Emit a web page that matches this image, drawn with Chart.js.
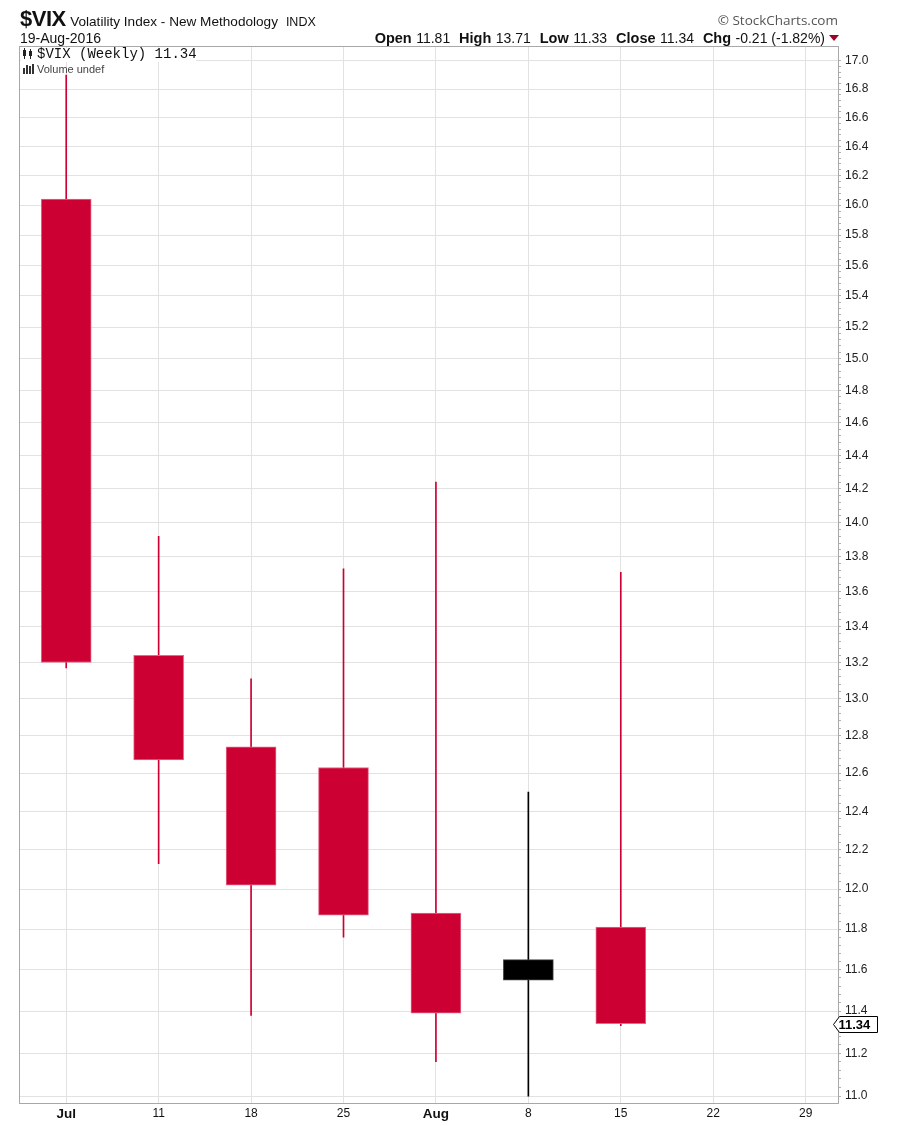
<!DOCTYPE html>
<html><head><meta charset="utf-8">
<script src="https://cdn.jsdelivr.net/npm/chart.js@4.4.1/dist/chart.umd.min.js"></script>
<style>
html,body{margin:0;padding:0;background:#fff;}
#wrap{position:relative;width:901px;height:1126px;overflow:hidden;font-family:"Liberation Sans",Arial,sans-serif;color:#111;}
canvas{position:absolute;left:0;top:0;}
.abs{position:absolute;white-space:nowrap;}
.b{font-weight:bold;font-size:14.5px;}
.v{font-size:14px;}
</style></head><body>
<div id="wrap">
<canvas id="c" width="901" height="1126"></canvas>
<div class="abs" style="left:20px;top:7px;line-height:24px;"><span style="font-weight:bold;font-size:22px;letter-spacing:-0.5px;">$VIX</span> <span style="font-size:13.6px;">Volatility Index - New Methodology</span> <span style="font-size:12.5px;">&nbsp;INDX</span></div>
<div class="abs" style="left:20px;top:31px;line-height:15px;font-size:14px;">19-Aug-2016</div>
<div class="abs" style="right:63px;top:11px;line-height:18px;font-family:'Open Sans',sans-serif;font-size:13.5px;color:#555;">&copy; StockCharts.com</div>
<div class="abs" style="right:76px;top:30px;line-height:15px;"><span class="b">Open</span> <span class="v">11.81</span>&nbsp; <span class="b">High</span> <span class="v">13.71</span>&nbsp; <span class="b">Low</span> <span class="v">11.33</span>&nbsp; <span class="b">Close</span> <span class="v">11.34</span>&nbsp; <span class="b">Chg</span> <span class="v">-0.21 (-1.82%)</span></div>
<div class="abs" style="left:829px;top:35px;width:0;height:0;border-left:5px solid transparent;border-right:5px solid transparent;border-top:6px solid #a0002a;"></div>
<div class="abs" style="left:21px;top:48px;width:175px;height:14px;background:#fff;"></div>
<div class="abs" style="left:23px;top:50px;width:3px;height:6px;background:#222;"></div>
<div class="abs" style="left:24px;top:48px;width:1px;height:11px;background:#222;"></div>
<div class="abs" style="left:29px;top:51px;width:3px;height:5px;background:#222;"></div>
<div class="abs" style="left:30px;top:49px;width:1px;height:10px;background:#222;"></div>
<div class="abs" style="left:37px;top:47px;line-height:14px;font-family:'Liberation Mono',monospace;font-size:14px;color:#111;">$VIX (Weekly) 11.34</div>
<div class="abs" style="left:23px;top:68px;width:2px;height:6px;background:#333;"></div>
<div class="abs" style="left:26px;top:65px;width:2px;height:9px;background:#333;"></div>
<div class="abs" style="left:29px;top:66px;width:2px;height:8px;background:#333;"></div>
<div class="abs" style="left:32px;top:64px;width:2px;height:10px;background:#333;"></div>
<div class="abs" style="left:37px;top:63px;line-height:13px;font-size:11px;color:#444;">Volume undef</div>
</div>
<script>
// ---- data ----
const xLabels = ['Jul', '11', '18', '25', 'Aug', '8', '15', '22', '29'];
const opens  = [16.04, 13.24, 12.74, 12.63, 11.88, 11.65, 11.81];
const highs  = [16.90, 13.92, 13.11, 13.73, 14.24, 12.50, 13.71];
const lows   = [13.17, 12.13, 11.38, 11.76, 11.16, 11.00, 11.33];
const closes = [13.20, 12.67, 12.02, 11.87, 11.39, 11.55, 11.34];
const yMajorTicks = [11.0, 11.2, 11.4, 11.6, 11.8, 12.0, 12.2, 12.4, 12.6, 12.8, 13.0, 13.2, 13.4, 13.6, 13.8, 14.0, 14.2, 14.4, 14.6, 14.8, 15.0, 15.2, 15.4, 15.6, 15.8, 16.0, 16.2, 16.4, 16.6, 16.8, 17.0];
const minorPerMajor = 5;

const RED = '#cc0033', BLACK = '#000000';
const candleColors = closes.map((c, i) => (i > 0 && c > closes[i - 1]) ? BLACK : RED);
const bodyBorders = candleColors.map(c => c === RED ? '#e26a88' : '#444444');

// build y tick list (major + minor)
const yTicks = [];
for (let i = 0; i < yMajorTicks.length; i++) {
  yTicks.push({ value: yMajorTicks[i], major: true });
  if (i < yMajorTicks.length - 1) {
    const a = yMajorTicks[i], b = yMajorTicks[i + 1];
    for (let k = 1; k < minorPerMajor; k++) yTicks.push({ value: a + (b - a) * k / minorPerMajor, major: false });
  }
}

const framePlugin = {
  id: 'frame',
  afterDatasetsDraw(chart) {
    const { ctx, chartArea: a } = chart;
    ctx.save();
    ctx.strokeStyle = '#a8a8a8';
    ctx.lineWidth = 1;
    ctx.strokeRect(Math.round(a.left) - 0.5, Math.round(a.top) - 0.5, Math.round(a.right - a.left) + 1, Math.round(a.bottom - a.top) + 1);
    ctx.restore();
  },
  afterDraw(chart) {
    const { ctx, chartArea: a } = chart;
    const last = closes[closes.length - 1];
    const y = Math.round(chart.scales.y.getPixelForValue(last)) + 0.5;
    const x0 = Math.round(a.right) - 4.5;
    ctx.save();
    ctx.beginPath();
    ctx.moveTo(x0, y);
    ctx.lineTo(x0 + 6, y - 8);
    ctx.lineTo(x0 + 44, y - 8);
    ctx.lineTo(x0 + 44, y + 8);
    ctx.lineTo(x0 + 6, y + 8);
    ctx.closePath();
    ctx.fillStyle = '#fff';
    ctx.fill();
    ctx.strokeStyle = '#000';
    ctx.lineWidth = 1;
    ctx.stroke();
    ctx.fillStyle = '#000';
    ctx.font = 'bold 13px "Liberation Sans", Arial, sans-serif';
    ctx.textBaseline = 'middle';
    ctx.textAlign = 'left';
    ctx.fillText(last.toFixed(2), x0 + 5, y + 1);
    ctx.restore();
  }
};

new Chart(document.getElementById('c'), {
  type: 'bar',
  data: {
    datasets: [
      {
        label: 'body',
        data: opens.map((o, i) => ({ x: i, y: [o, closes[i]] })),
        backgroundColor: candleColors,
        borderColor: bodyBorders,
        borderWidth: 1,
        borderSkipped: false,
        barThickness: 50,
        grouped: false,
        order: 0
      },
      {
        label: 'wick',
        data: opens.map((o, i) => ({ x: i, y: [lows[i], highs[i]] })),
        backgroundColor: candleColors,
        borderWidth: 0,
        barThickness: 1,
        grouped: false,
        order: 1
      }
    ]
  },
  options: {
    responsive: false,
    animation: false,
    devicePixelRatio: 1,
    layout: { padding: { left: 20, top: 47, right: 0, bottom: 0 } },
    plugins: { legend: { display: false }, tooltip: { enabled: false } },
    scales: {
      x: {
        type: 'linear',
        position: 'bottom',
        offset: false,
        min: -0.5,
        max: 8.35,
        afterBuildTicks(scale) { scale.ticks = xLabels.map((_, i) => ({ value: i })); },
        afterFit(scale) { scale.height = 23; },
        border: { display: false },
        grid: { color: '#e2e2e2', drawTicks: false, offset: false },
        ticks: {
          autoSkip: false,
          maxRotation: 0,
          padding: 3,
          color: '#111',
          callback: (v) => xLabels[v],
          font: (ctx) => {
            const lab = xLabels[ctx.tick ? ctx.tick.value : 0];
            const isMonth = lab && isNaN(Number(lab));
            return { family: '"Liberation Sans", Arial, sans-serif', size: isMonth ? 13.5 : 12, weight: isMonth ? 'bold' : 'normal' };
          }
        }
      },
      y: {
        type: 'logarithmic',
        position: 'right',
        min: 10.968,
        max: 17.1,
        afterBuildTicks(scale) { scale.ticks = yTicks.map(t => ({ value: t.value, major: t.major })); },
        afterFit(scale) { scale.width = 63; },
        border: { display: false },
        grid: {
          color: (ctx) => (ctx.tick && ctx.tick.major) ? '#e2e2e2' : 'rgba(0,0,0,0)',
          tickColor: '#b0b0b0',
          tickLength: 3
        },
        ticks: {
          autoSkip: false,
          padding: 4,
          color: '#222',
          font: { family: '"Liberation Sans", Arial, sans-serif', size: 12 },
          callback: (v, i, ticks) => ticks[i].major ? Number(v).toFixed(1) : ''
        }
      }
    }
  },
  plugins: [framePlugin]
});
</script>
</body></html>
